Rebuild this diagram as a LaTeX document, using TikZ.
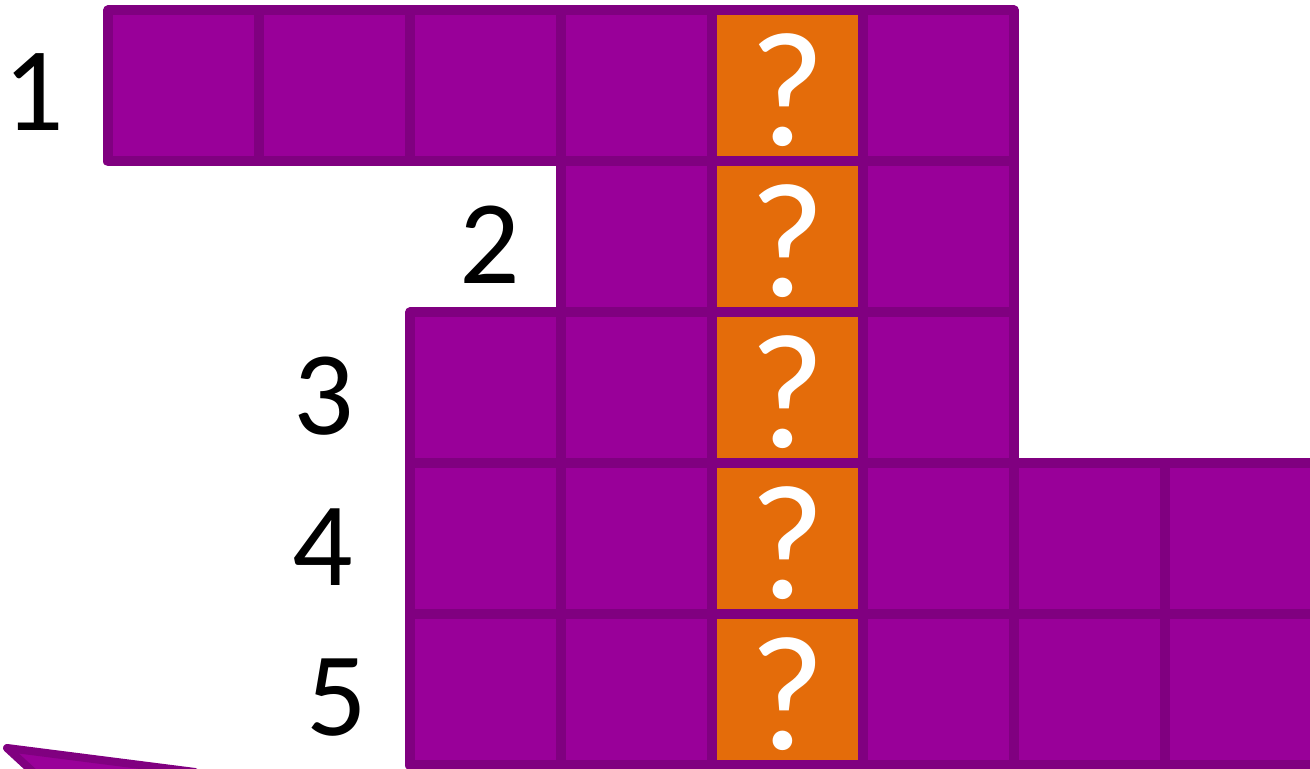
\documentclass[tikz,border=0pt]{standalone}
\usepackage{fontspec}
\setmainfont{Carlito}
\usetikzlibrary{positioning}
\usepackage{xcolor}
\definecolor{cellfill}{HTML}{990099}
\definecolor{cellline}{HTML}{800080}
\definecolor{qfill}{HTML}{E46C0A}

\begin{document}
\begin{tikzpicture}[
    cell/.style={draw=cellline, fill=cellfill, line width=1mm, line join=round,
      minimum size=1.51cm, inner sep=0pt, outer sep=0pt},
    qcell/.style={cell, fill=qfill},
    qmark/.style={inner sep=0pt, text=white, yshift=-0.04cm,
      font=\fontsize{46.6}{50}\selectfont},
    num/.style={inner sep=0pt, font=\fontsize{34}{40}\selectfont}
  ]
  \useasboundingbox (0,0) rectangle (13.10,7.69);

  % Cut-off shape in the corner
  \draw[draw=cellline, fill=cellfill, line width=0.8mm, line join=round]
    (0.07,0.21) -- (1.95,-0.03) -- (0.57,-0.25) -- cycle;

  % Purple cells, row by row
  \foreach \c in {0,1,2,3,5}
    \node[cell] (r1c\c) at ({1.835+1.51*\c},6.83) {};
  \foreach \c in {3,5}
    \node[cell] (r2c\c) at ({1.835+1.51*\c},5.32) {};
  \foreach \c in {2,3,5}
    \node[cell] (r3c\c) at ({1.835+1.51*\c},3.81) {};
  \foreach \c in {2,3,5,6,7}
    \node[cell] (r4c\c) at ({1.835+1.51*\c},2.30) {};
  \foreach \c in {2,3,5,6,7}
    \node[cell] (r5c\c) at ({1.835+1.51*\c},0.79) {};

  % Orange column
  \foreach \r/\y in {1/6.83,2/5.32,3/3.81,4/2.30,5/0.79} {
    \node[qcell] (r\r c4) at (7.875,\y) {};
    \node[qmark] (q\r) at (r\r c4.center) {?};
  }

  % Row numbers
  \node[num] (n1) at (0.34,6.77) {1};
  \node[num] (n2) at (4.90,5.24) {2};
  \node[num] (n3) at (3.24,3.73) {3};
  \node[num] (n4) at (3.23,2.22) {4};
  \node[num] (n5) at (3.37,0.71) {5};
\end{tikzpicture}
\end{document}
